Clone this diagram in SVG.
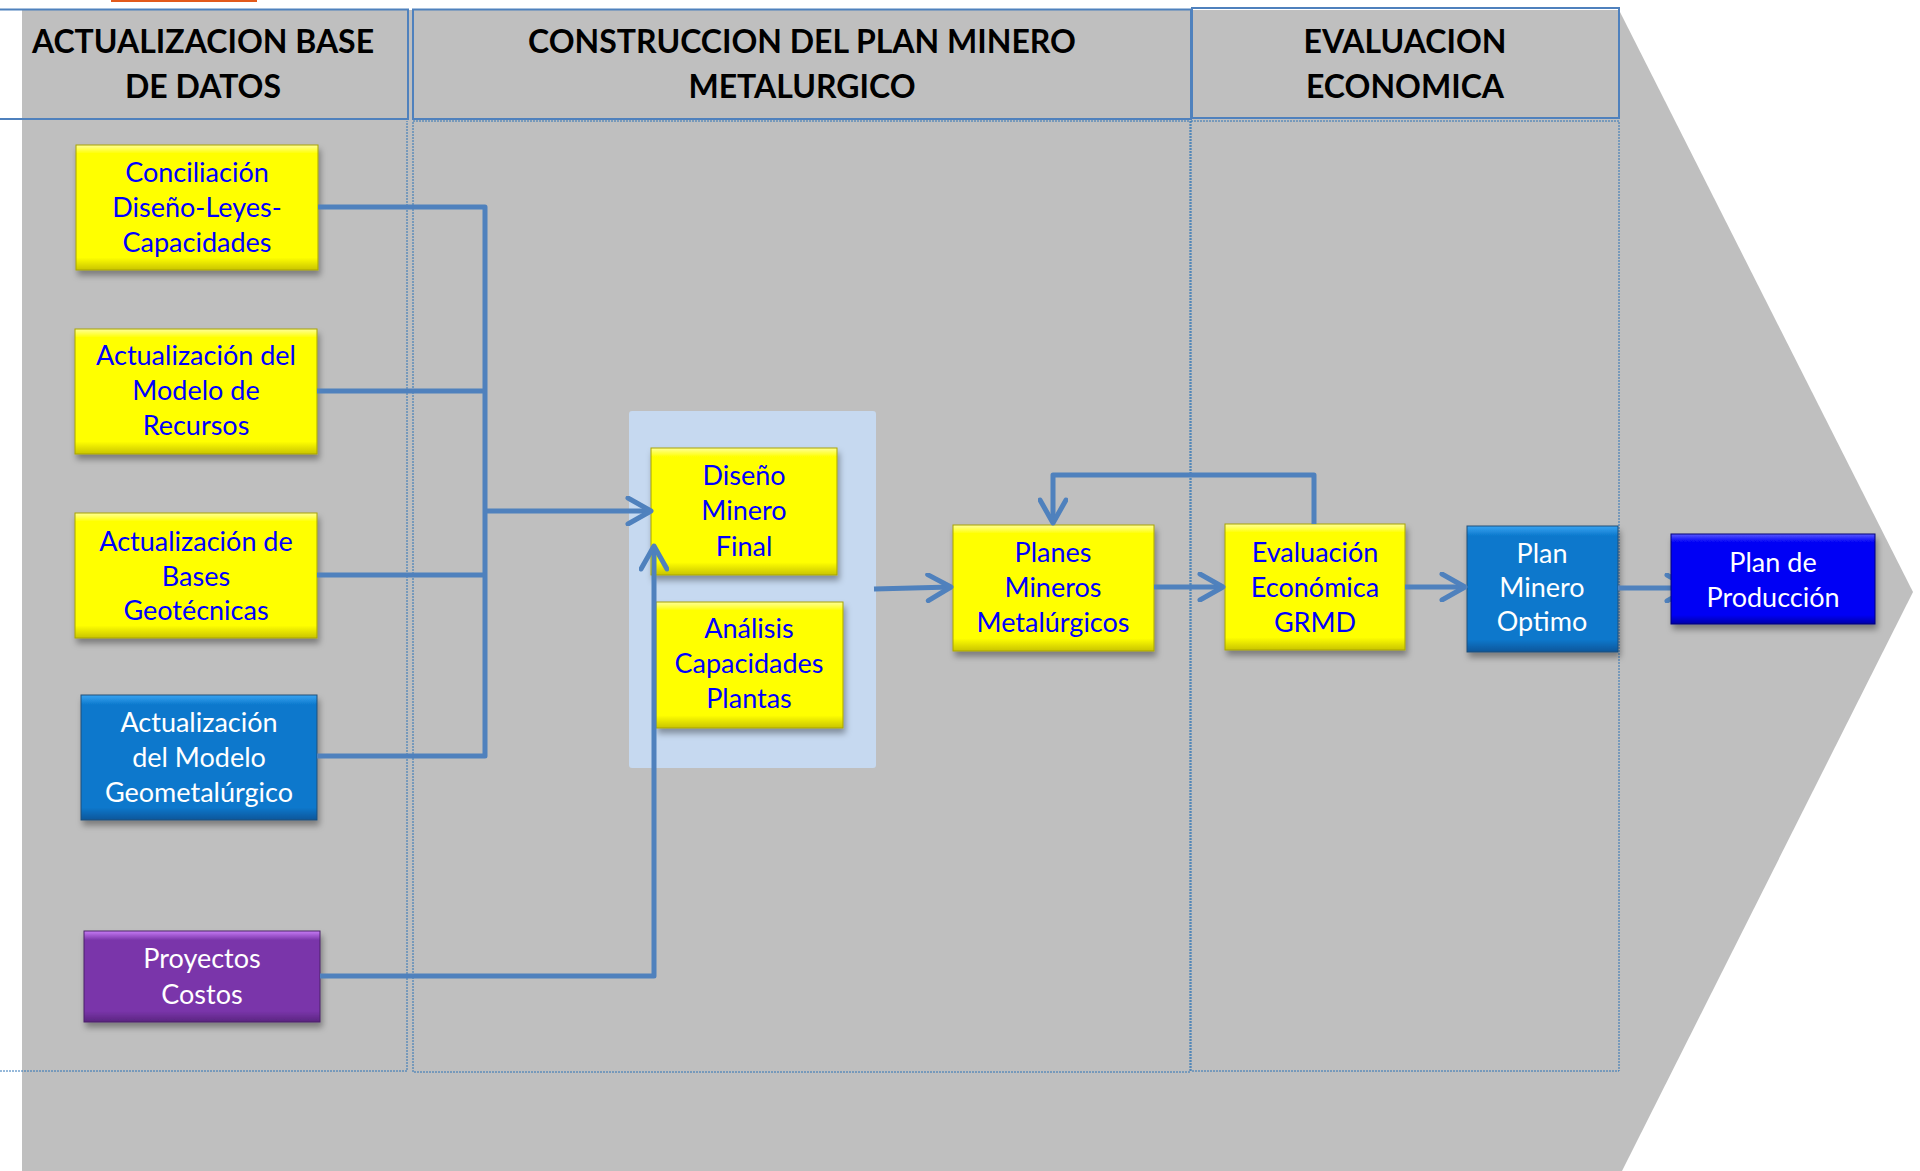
<svg xmlns="http://www.w3.org/2000/svg" width="1920" height="1171" viewBox="0 0 1920 1171">
<style>
.hdr{fill:none;stroke:#4F81BD;stroke-width:2}
.body{fill:none;stroke:#2E75B6;stroke-width:1;stroke-dasharray:2 1}
.ht{font-family:Lato,"Liberation Sans",sans-serif;font-weight:bold;font-size:32px;fill:#000;text-anchor:middle}
.nt{font-family:Lato,"Liberation Sans",sans-serif;font-size:27px;text-anchor:middle}
.tb{fill:#0000FF}
.tw{fill:#FFFFFF}
.conn{fill:none;stroke:#4F81BD;stroke-width:5;stroke-linejoin:round}
.yb{fill:url(#gy);stroke:#A8A400;stroke-width:1;filter:url(#sh)}
.bb{fill:url(#gb);stroke:#1F4E79;stroke-width:1;filter:url(#sh)}
.pb{fill:url(#gp);stroke:#4B2268;stroke-width:1;filter:url(#sh)}
.db{fill:url(#gd);stroke:#00007A;stroke-width:1;filter:url(#sh)}
</style>
<defs>
<filter id="sh" x="-10%" y="-10%" width="125%" height="135%">
<feDropShadow dx="2" dy="5" stdDeviation="3" flood-color="#000" flood-opacity="0.35"/>
</filter>
<linearGradient id="gy" x1="0" y1="0" x2="0" y2="1">
<stop offset="0" stop-color="#FFFF9A"/><stop offset="0.07" stop-color="#FFFF00"/><stop offset="0.9" stop-color="#FFFF00"/><stop offset="1" stop-color="#C9C400"/>
</linearGradient>
<linearGradient id="gb" x1="0" y1="0" x2="0" y2="1">
<stop offset="0" stop-color="#3AA4F2"/><stop offset="0.08" stop-color="#0A78CC"/><stop offset="0.9" stop-color="#0A78CC"/><stop offset="1" stop-color="#07569A"/>
</linearGradient>
<linearGradient id="gp" x1="0" y1="0" x2="0" y2="1">
<stop offset="0" stop-color="#C77CF5"/><stop offset="0.1" stop-color="#7A35AA"/><stop offset="0.88" stop-color="#7A35AA"/><stop offset="1" stop-color="#5A2580"/>
</linearGradient>
<linearGradient id="gd" x1="0" y1="0" x2="0" y2="1">
<stop offset="0" stop-color="#5A5AFF"/><stop offset="0.09" stop-color="#0000F5"/><stop offset="0.9" stop-color="#0000F5"/><stop offset="1" stop-color="#0000A8"/>
</linearGradient>
<marker id="ah" markerUnits="userSpaceOnUse" markerWidth="30" markerHeight="30" viewBox="0 0 30 30" refX="26" refY="15" orient="auto">
<path d="M3,2 L26,15 L3,28" fill="none" stroke="#4F81BD" stroke-width="5" stroke-linecap="round" stroke-linejoin="round"/>
</marker>
</defs>

<rect width="1920" height="1171" fill="#FFFFFF"/>
<rect x="111" y="0" width="146" height="2" fill="#E35A1B"/>
<polygon id="background" points="22,10 1619,10 1913,592 1622,1171 22,1171" fill="#BFBFBF"/>

<g id="columns">
<path class="hdr" d="M0,9.5 H408 V119 H0"/>
<rect class="hdr" x="413" y="9.5" width="778" height="109.5"/>
<rect class="hdr" x="1192" y="8" width="427" height="110"/>
<path class="body" d="M0,1071 H407 V121"/>
<rect class="body" x="413" y="121" width="777" height="951"/>
<rect class="body" x="1191" y="121" width="428" height="950"/>
<text class="ht" x="203" y="53">ACTUALIZACION BASE</text>
<text class="ht" x="203" y="98">DE DATOS</text>
<text class="ht" x="802" y="53">CONSTRUCCION DEL PLAN MINERO</text>
<text class="ht" x="802" y="98">METALURGICO</text>
<text class="ht" x="1405" y="53">EVALUACION</text>
<text class="ht" x="1405" y="98">ECONOMICA</text>
</g>

<rect id="panel" x="629" y="411" width="247" height="357" rx="3" fill="#C6D9F0"/>

<g id="conciliacion">
<rect class="yb" x="76" y="145" width="242" height="125"/>
<text class="nt tb" x="197" y="182">Conciliación</text>
<text class="nt tb" x="197" y="217">Diseño-Leyes-</text>
<text class="nt tb" x="197" y="252">Capacidades</text>
</g>
<g id="recursos">
<rect class="yb" x="75" y="329" width="242" height="125"/>
<text class="nt tb" x="196" y="365">Actualización del</text>
<text class="nt tb" x="196" y="400">Modelo de</text>
<text class="nt tb" x="196" y="435">Recursos</text>
</g>
<g id="geotecnicas">
<rect class="yb" x="75" y="513" width="242" height="125"/>
<text class="nt tb" x="196" y="551">Actualización de</text>
<text class="nt tb" x="196" y="586">Bases</text>
<text class="nt tb" x="196" y="620">Geotécnicas</text>
</g>
<g id="geometalurgico">
<rect class="bb" x="81" y="695" width="236" height="125"/>
<text class="nt tw" x="199" y="732">Actualización</text>
<text class="nt tw" x="199" y="767">del Modelo</text>
<text class="nt tw" x="199" y="802">Geometalúrgico</text>
</g>
<g id="proyectos">
<rect class="pb" x="84" y="931" width="236" height="91"/>
<text class="nt tw" x="202" y="968">Proyectos</text>
<text class="nt tw" x="202" y="1004">Costos</text>
</g>
<g id="diseno">
<rect class="yb" x="651" y="448" width="186" height="127"/>
<text class="nt tb" x="744" y="485">Diseño</text>
<text class="nt tb" x="744" y="520">Minero</text>
<text class="nt tb" x="744" y="556">Final</text>
</g>
<g id="analisis">
<rect class="yb" x="656" y="602" width="187" height="126"/>
<text class="nt tb" x="749" y="638">Análisis</text>
<text class="nt tb" x="749" y="673">Capacidades</text>
<text class="nt tb" x="749" y="708">Plantas</text>
</g>
<g id="planes">
<rect class="yb" x="953" y="525" width="201" height="126"/>
<text class="nt tb" x="1053" y="562">Planes</text>
<text class="nt tb" x="1053" y="597">Mineros</text>
<text class="nt tb" x="1053" y="632">Metalúrgicos</text>
</g>
<g id="evaluacion">
<rect class="yb" x="1225" y="524" width="180" height="126"/>
<text class="nt tb" x="1315" y="562">Evaluación</text>
<text class="nt tb" x="1315" y="597">Económica</text>
<text class="nt tb" x="1315" y="632">GRMD</text>
</g>
<g id="optimo">
<rect class="bb" x="1467" y="526" width="151" height="126"/>
<text class="nt tw" x="1542" y="563">Plan</text>
<text class="nt tw" x="1542" y="597">Minero</text>
<text class="nt tw" x="1542" y="631">Optimo</text>
</g>

<g id="connectors">
<path class="conn" d="M318,207 H485 V756 H317"/>
<path class="conn" d="M317,391 H485"/>
<path class="conn" d="M317,575 H485"/>
<path class="conn" d="M485,511 H651" marker-end="url(#ah)"/>
<path class="conn" d="M320,976 H654 V546" marker-end="url(#ah)"/>
<path class="conn" d="M874,589 L951,587" marker-end="url(#ah)"/>
<path class="conn" d="M1314,524 V475 H1053 V523" marker-end="url(#ah)"/>
<path class="conn" d="M1154,587 H1223" marker-end="url(#ah)"/>
<path class="conn" d="M1405,587 H1465" marker-end="url(#ah)"/>
<path class="conn" d="M1618,588 H1690" marker-end="url(#ah)"/>
</g>

<g id="produccion">
<rect class="db" x="1671" y="534" width="204" height="90"/>
<text class="nt tw" x="1773" y="572">Plan de</text>
<text class="nt tw" x="1773" y="607">Producción</text>
</g>
</svg>
